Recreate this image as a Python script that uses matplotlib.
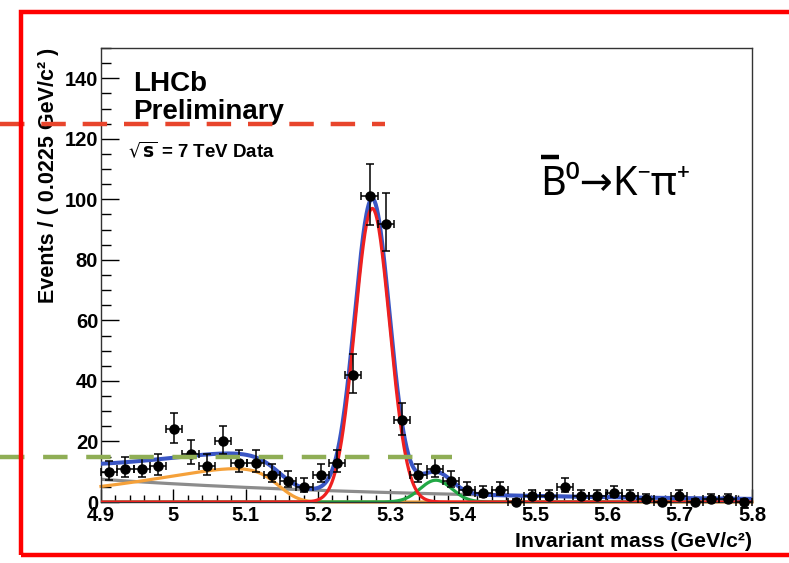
import numpy as np
import matplotlib
matplotlib.use("Agg")
import matplotlib.pyplot as plt
from matplotlib import transforms
from matplotlib.lines import Line2D
from matplotlib.patches import Rectangle

# ---------------- data ----------------
mass_lo, mass_hi, bin_width = 4.9, 5.8, 0.0225
counts = [10, 11, 11, 12, 24, 16, 12, 20, 13, 13,
          9, 7, 5, 9, 13, 42, 101, 92, 27, 9,
          11, 7, 4, 3, 4, 0, 2, 2, 5, 2,
          2, 3, 2, 1, 0, 2, 0, 1, 1, 0]

# fit components (parameters)
sig_mean, sig_sigma, sig_peak = 5.275, 0.024, 97.0          # red, B0 -> K pi
bs_mean, bs_sigma, bs_peak = 5.363, 0.022, 7.2              # green, Bs -> K pi
comb_at_lo, comb_slope = 7.5, 2.2                           # grey, combinatorial
part_m0, part_c, part_res, part_peak = 5.155, -20.0, 0.02, 11.0  # orange, partially reco.

xticks = [4.9, 5.0, 5.1, 5.2, 5.3, 5.4, 5.5, 5.6, 5.7, 5.8]
xtick_labels = ["4.9", "5", "5.1", "5.2", "5.3", "5.4", "5.5", "5.6", "5.7", "5.8"]
yticks = [0, 20, 40, 60, 80, 100, 120, 140]
annotation_levels = [125, 15]   # dashed guide lines (red, green)

# ---------------- derived ----------------
counts = np.array(counts, dtype=float)
centers = mass_lo + bin_width * (np.arange(len(counts)) + 0.5)
err_hi = 0.5 + np.sqrt(counts + 0.25)
err_lo = -0.5 + np.sqrt(counts + 0.25)

m = np.linspace(mass_lo, mass_hi, 1200)
signal = sig_peak * np.exp(-0.5 * ((m - sig_mean) / sig_sigma) ** 2)
bs = bs_peak * np.exp(-0.5 * ((m - bs_mean) / bs_sigma) ** 2)
comb = comb_at_lo * np.exp(-comb_slope * (m - mass_lo))
# ARGUS smeared with resolution
mm = np.linspace(mass_lo - 0.2, mass_hi, 3000)
z = np.clip(1 - (mm / part_m0) ** 2, 0, None)
argus = np.where(z > 0, mm * np.sqrt(z) * np.exp(part_c * z), 0.0)
dm = mm[1] - mm[0]
kx = np.arange(-5 * part_res, 5 * part_res + dm, dm)
kern = np.exp(-0.5 * (kx / part_res) ** 2)
kern /= kern.sum()
smeared = np.convolve(argus, kern, mode="same")
part = np.interp(m, mm, smeared)
part = part / part.max() * part_peak
total = signal + bs + comb + part

# ---------------- figure ----------------
W, H = 789, 563
fig = plt.figure(figsize=(W / 100, H / 100), dpi=100)
ax = fig.add_axes([101 / W, 61 / H, 651 / W, 454 / H])

lw = 2.3
ax.plot(m, total, color="#3a56c4", lw=lw + 0.6, zorder=3)
ax.plot(m, comb, color="#8c8c8c", lw=lw, zorder=2)
ax.plot(m, part, color="#f5a13a", lw=lw, zorder=2, clip_on=False)
ax.plot(m, bs, color="#22a845", lw=lw, zorder=2)
ax.plot(m, signal, color="#ee2020", lw=lw, zorder=4)

ax.errorbar(centers, counts, yerr=[err_lo, err_hi], xerr=bin_width / 2,
            fmt="o", color="black", ms=6.5, elinewidth=1.1, capsize=2.8,
            capthick=1.1, zorder=5, clip_on=False)

ax.set_xlim(mass_lo, mass_hi)
ax.set_ylim(0, 150)

font = "Liberation Sans"
ax.set_xticks(xticks)
ax.set_xticklabels(xtick_labels, fontfamily=font, fontweight="bold", fontsize=14.5)
ax.set_yticks(yticks)
ax.set_yticklabels([str(v) for v in yticks], fontfamily=font, fontweight="bold", fontsize=14.5)
ax.set_xticks(np.arange(4.9, 5.8001, 0.02), minor=True)
ax.set_yticks(np.arange(0, 150.1, 5), minor=True)
ax.tick_params(axis="y", which="major", direction="in", length=13, width=1.0, pad=2, right=False)
ax.tick_params(axis="y", which="minor", direction="in", length=7, width=1.0, right=False)
ax.tick_params(axis="x", which="major", direction="in", length=9.5, width=1.0, pad=3, top=False)
ax.tick_params(axis="x", which="minor", direction="in", length=5, width=1.0, top=False)
for s in ax.spines.values():
    s.set_linewidth(1.0)
    s.set_color("#333333")

ax.set_xlabel("Invariant mass (GeV/c²)", fontfamily=font, fontweight="bold",
              fontsize=15.3, loc="right", labelpad=5)
ax.set_ylabel("Events / ( 0.0225 GeV/c² )", fontfamily=font, fontweight="bold",
              fontsize=15.5, loc="top", labelpad=4)

ax.text(0.049, 0.905, "LHCb", transform=ax.transAxes, fontfamily=font,
        fontweight="bold", fontsize=20, va="baseline")
ax.text(0.049, 0.843, "Preliminary", transform=ax.transAxes, fontfamily=font,
        fontweight="bold", fontsize=20, va="baseline")
ax.text(0.041, 0.76, r"$\sqrt{\mathbf{s}}$ = 7 TeV Data", transform=ax.transAxes,
        fontfamily=font, fontweight="bold", fontsize=13.5, va="baseline")

ax.text(0.674, 0.676, "B⁰→K⁻π⁺", transform=ax.transAxes,
        fontfamily=["Noto Sans", "DejaVu Sans"], fontsize=28.5, va="baseline")
ax.add_line(Line2D([0.676, 0.704], [0.76, 0.76], transform=ax.transAxes,
                   color="black", lw=3.2, solid_capstyle="butt", clip_on=False))

# dashed guide lines spanning out of the axes
tr = transforms.blended_transform_factory(fig.transFigure, ax.transData)
fig.add_artist(Line2D([0, 385 / W], [annotation_levels[0]] * 2, transform=tr,
                      color="#e8452c", lw=3.2, dashes=(5.5, 3.8), zorder=10))
fig.add_artist(Line2D([0, 452 / W], [annotation_levels[1]] * 2, transform=tr,
                      color="#8fae55", lw=3.2, dashes=(5.5, 4.2), zorder=10))

# red outer frame
fig.add_artist(Rectangle((21 / W, (H - 555) / H), 1.0, (555 - 12) / H,
                         transform=fig.transFigure, fill=False,
                         edgecolor="#ff0000", lw=3.2, zorder=11))

fig.savefig("out.png", dpi=100)
